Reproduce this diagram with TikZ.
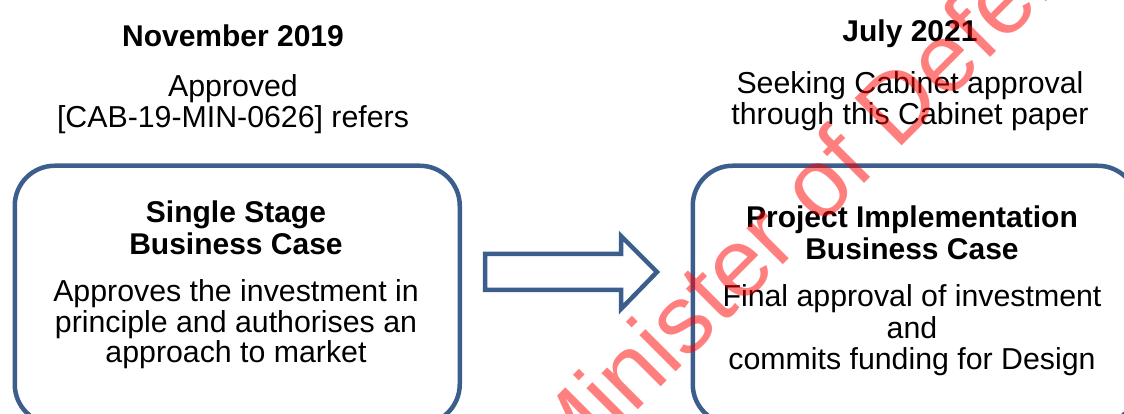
\documentclass[tikz,border=0pt]{standalone}
\usepackage{fontspec}
\setmainfont{Liberation Sans}
\definecolor{boxblue}{RGB}{59,94,140}
\begin{document}
\begin{tikzpicture}[x=1pt,y=1pt,
  stagebox/.style={draw=boxblue, line width=4.5pt, rounded corners=40pt, inner sep=0pt, minimum width=445pt, minimum height=258.5pt, anchor=north west},
  txt/.style={align=center, inner sep=0pt, anchor=base, font=\fontsize{30.3}{31.5}\selectfont},
  head/.style={align=center, inner sep=0pt, anchor=base, font=\fontsize{30}{32}\selectfont\bfseries},
  blockarrow/.style={draw=boxblue, line width=4.5pt, fill=white, line join=miter},
  watermark/.style={text=red, text opacity=0.5, font=\fontsize{97}{97}\selectfont, inner sep=0pt, anchor=base west, rotate=45}]
\useasboundingbox (0,0) rectangle (1124,414);
\clip (0,0) rectangle (1124,414);
% boxes
\node[stagebox] (left) at (12.5,250.5) {};
\node[stagebox] (right) at (690.5,250.5) {};
% block arrow between the boxes
\draw[blockarrow] (485,160) -- (621,160) -- (621,178) -- (657,142) -- (621,105) -- (621,124) -- (485,124) -- cycle;
% top captions (base anchor = baseline of the last line)
\node[head] (t1) at (233,367) {November 2019};
\node[txt] (s1) at (233,286) {Approved\\{[}CAB-19-MIN-0626{]} refers};
\node[head] (t2) at (910,372) {July 2021};
\node[txt] (s2) at (910,289) {Seeking Cabinet approval\\through this Cabinet paper};
% box contents
\node[head] (h1) at (236,159) {Single Stage\\Business Case};
\node[txt, font=\fontsize{30.3}{30.5}\selectfont] (b1) at (236,51) {Approves the investment in\\principle and authorises an\\approach to market};
\node[head] (h2) at (912,154) {Project Implementation\\Business Case};
\node[txt] (b2) at (912,44) {Final approval of investment\\and\\commits funding for Design};
% watermark
\node[watermark] (wm) at (561,-73) {Minister of Defence};
\end{tikzpicture}
\end{document}
